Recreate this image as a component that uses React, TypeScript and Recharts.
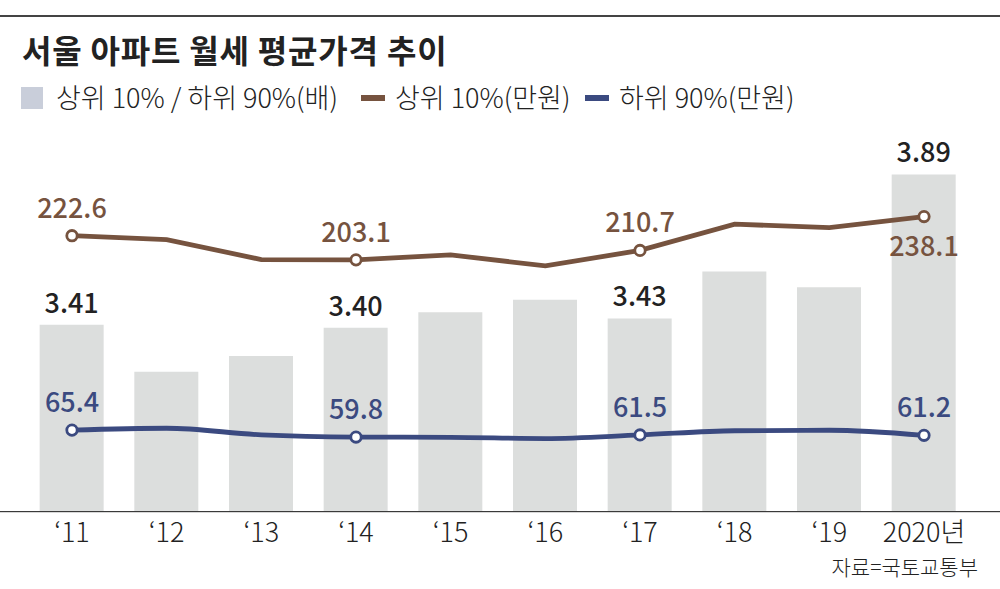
import type React from 'react';
import { Bar, ComposedChart, LabelList, Line, XAxis, YAxis } from 'recharts';

const years = ['‘11', '‘12', '‘13', '‘14', '‘15', '‘16', '‘17', '‘18', '‘19', '2020년'];
const ratio = [3.41, 3.26, 3.31, 3.4, 3.45, 3.49, 3.43, 3.58, 3.53, 3.89];
const top10 = [222.6, 219.5, 203.3, 203.1, 207.1, 198.2, 210.7, 231.9, 229.2, 238.1];
const bottom90 = [65.4, 66.9, 61.6, 59.8, 59.6, 58.6, 61.5, 64.9, 65.3, 61.2];
const labeled = [0, 3, 6, 9];

const legendItems = [
  { label: '상위 10% / 하위 90%(배)', kind: 'box', color: '#c9ceda' },
  { label: '상위 10%(만원)', kind: 'line', color: '#76533f' },
  { label: '하위 90%(만원)', kind: 'line', color: '#3b4a80' },
];

const title = '서울 아파트 월세 평균가격 추이';
const source = '자료=국토교통부';

const FONT = "'Noto Sans CJK KR', 'Noto Sans', sans-serif";
const BROWN = '#76533f';
const NAVY = '#3b4a80';

const data = years.map((year, i) => ({
  year,
  ratio: ratio[i],
  top10: top10[i],
  bottom90: bottom90[i],
}));

const fmt = (v: number, digits: number) => v.toFixed(digits);

function makeDot(color: string) {
  return (props: any) => {
    const { cx, cy, index } = props;
    if (!labeled.includes(index)) return <g key={`d-${index}`} />;
    return <circle key={`d-${index}`} cx={cx} cy={cy} r={5.2} fill='#fff' stroke={color} strokeWidth={2.8} />;
  };
}

function lineLabel(color: string, below: number[] = []) {
  return (props: any) => {
    const { x, y, value, index } = props;
    if (!labeled.includes(index)) return null;
    const under = below.includes(index);
    return (
      <text
        key={`l-${index}`}
        x={x}
        y={under ? y + 39 : y - 18}
        textAnchor='middle'
        fontFamily={FONT}
        fontSize={27}
        fontWeight={500}
        fill={color}
      >
        {fmt(value, 1)}
      </text>
    );
  };
}

const barLabel = (props: any) => {
  const { x, y, width, value, index } = props;
  if (!labeled.includes(index)) return null;
  return (
    <text
      key={`b-${index}`}
      x={x + width / 2}
      y={y - 12}
      textAnchor='middle'
      fontFamily={FONT}
      fontSize={27}
      fontWeight={500}
      fill='#222'
    >
      {fmt(value, 2)}
    </text>
  );
};

const YearTick = (props: any) => (
  <text
    x={props.x}
    y={props.y}
    dy={22.5}
    textAnchor='middle'
    fontFamily={FONT}
    fontSize={27}
    fontWeight={300}
    fill='#222'
  >
    {props.payload.value}
  </text>
);

function Overlay(): React.JSX.Element {
  let cursor = 21;
  const items = legendItems.map((item, i) => {
    const g = (
      <g key={i}>
        {item.kind === 'box' ? (
          <rect x={cursor} y={87} width={22} height={22} fill={item.color} />
        ) : (
          <rect x={cursor} y={95} width={24} height={6} fill={item.color} />
        )}
        <text
          x={cursor + (item.kind === 'box' ? 35 : 34)}
          y={108}
          fontFamily={FONT}
          fontSize={27}
          fontWeight={300}
          fill='#222'
        >
          {item.label}
        </text>
      </g>
    );
    cursor += i === 0 ? 340 : 224;
    return g;
  });
  return (
    <svg width={1000} height={589} style={{ position: 'absolute', left: 0, top: 0, pointerEvents: 'none' }}>
      <rect x={0} y={15} width={1000} height={2} fill='#444' />
      <text x={22} y={63} fontFamily={FONT} fontSize={32} fontWeight={700} letterSpacing={0.8} fill='#222'>
        {title}
      </text>
      {items}
      <rect x={0} y={511} width={1000} height={1.2} fill='#3a3a3a' />
      <text x={978} y={575} textAnchor='end' fontFamily={FONT} fontSize={21} fontWeight={300} fill='#222'>
        {source}
      </text>
    </svg>
  );
}

export default function App(): React.JSX.Element {
  return (
    <div style={{ position: 'absolute', left: 0, top: 0, width: 1000, height: 589, background: '#fff' }}>
      <ComposedChart width={1000} height={589} data={data} margin={{ top: 140, right: 28.65, bottom: 0, left: 24.65 }}>
        <XAxis dataKey='year' height={78} axisLine={false} tickLine={false} tick={<YearTick />} interval={0} />
        <YAxis yAxisId='ratio' hide type='number' domain={[2.815, 4.0]} allowDataOverflow />
        <YAxis yAxisId='won' hide type='number' domain={[0, 300]} allowDataOverflow />
        <Bar yAxisId='ratio' dataKey='ratio' fill='#dcdedd' barSize={64} isAnimationActive={false}>
          <LabelList dataKey='ratio' content={barLabel} />
        </Bar>
        <Line
          yAxisId='won'
          type='linear'
          dataKey='top10'
          stroke={BROWN}
          strokeWidth={4.8}
          dot={makeDot(BROWN)}
          activeDot={false}
          isAnimationActive={false}
        >
          <LabelList dataKey='top10' content={lineLabel(BROWN, [9])} />
        </Line>
        <Line
          yAxisId='won'
          type='monotone'
          dataKey='bottom90'
          stroke={NAVY}
          strokeWidth={4.8}
          dot={makeDot(NAVY)}
          activeDot={false}
          isAnimationActive={false}
        >
          <LabelList dataKey='bottom90' content={lineLabel(NAVY)} />
        </Line>
      </ComposedChart>
      <Overlay />
    </div>
  );
}
